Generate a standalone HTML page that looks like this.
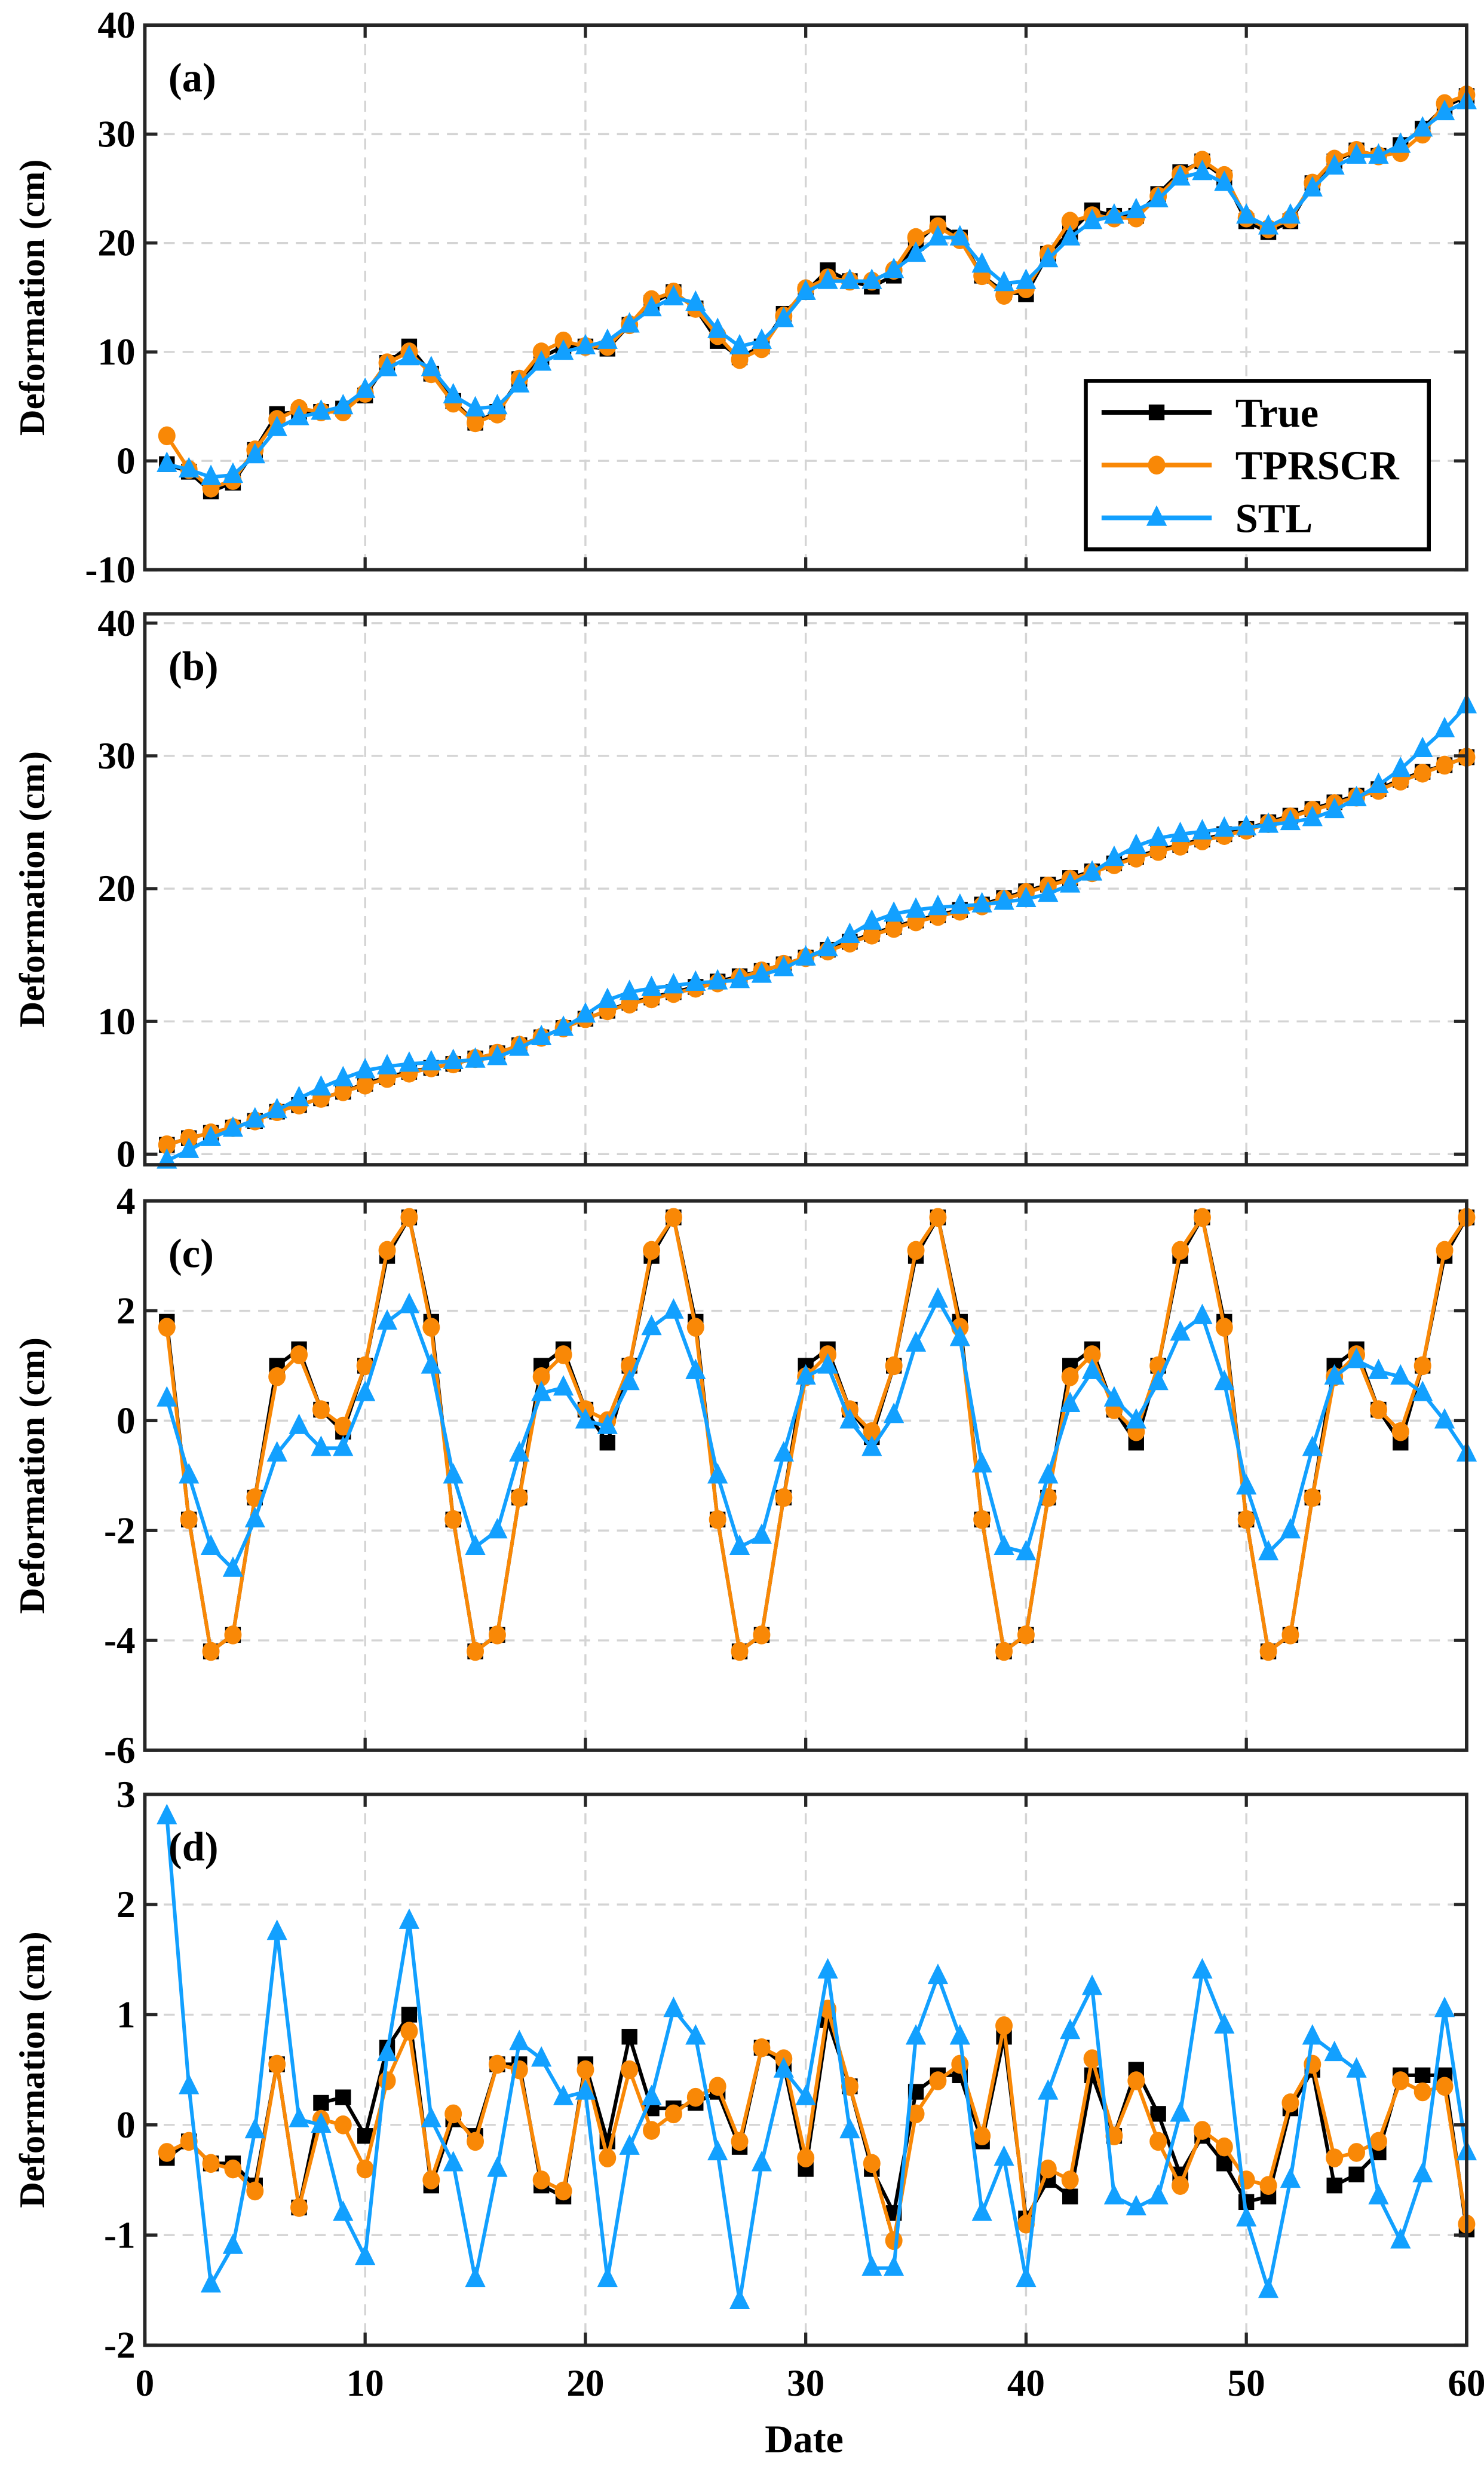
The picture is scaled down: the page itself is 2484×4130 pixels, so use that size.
<!DOCTYPE html>
<html><head><meta charset="utf-8">
<style>
html,body{margin:0;padding:0;background:#fff;}
svg{display:block;font-family:"Liberation Serif","DejaVu Serif",serif;font-weight:bold;}
</style></head>
<body>
<svg id="chart" width="2484" height="4130" viewBox="0 0 943 1568" xmlns="http://www.w3.org/2000/svg"></svg>
<script>
const dates = Array.from({length:60},(_,i)=>i+1);
const xTicks = [0,10,20,30,40,50,60];
const panelLabels = ["(a)","(b)","(c)","(d)"];
const yTicksA = [-10,0,10,20,30,40];
const yTicksB = [0,10,20,30,40];
const yTicksC = [-6,-4,-2,0,2,4];
const yTicksD = [-2,-1,0,1,2,3];

const trueA = [-0.3,-1,-2.8,-2,1,4.3,4.5,4.5,4.8,6,9,10.5,8,5.5,3.5,4.5,7.5,9.5,10.5,10.5,10.3,12.5,14.5,15.5,14,11,9.5,10.5,13.5,15.5,17.5,16.5,16,17,20,21.8,20.5,17,15.5,15.3,19,21,23,22.5,22.5,24.5,26.5,27.5,26,22,21,22,25.5,27.5,28.5,28,29,30.5,32.5,33.5];
const tprA = [2.3,-0.8,-2.5,-1.8,1,3.8,4.8,4.5,4.5,6.2,9,10,8,5.3,3.5,4.3,7.5,10,11,10.5,10.5,12.5,14.8,15.5,14,11.5,9.3,10.3,13.3,15.8,16.8,16.5,16.5,17.5,20.5,21.5,20.3,17,15.2,15.8,19,22,22.5,22.3,22.3,24.3,26.3,27.6,26.2,22.3,21.3,22.2,25.5,27.7,28.5,28,28.3,30,32.8,33.6];
const stlA = [-0.3,-0.8,-1.5,-1.3,0.5,3,4,4.5,5,6.5,8.5,9.5,8.5,6,4.8,5,7,9,10,10.5,11,12.5,14,15,14.5,12,10.5,11,13,15.5,16.5,16.5,16.5,17.5,19,20.5,20.5,18,16.3,16.5,18.5,20.5,22,22.5,23,24,26,26.5,25.5,22.5,21.5,22.5,25,27,28,28,29,30.5,32,33];

const trueB = [0.7,1.2,1.6,2,2.5,3.2,3.7,4.2,4.7,5.3,5.8,6.2,6.5,6.8,7.2,7.6,8.2,8.8,9.5,10.2,10.8,11.4,11.8,12.2,12.6,13,13.4,13.8,14.3,14.8,15.4,16,16.6,17.1,17.6,18,18.4,18.8,19.3,19.8,20.3,20.8,21.3,21.9,22.4,22.9,23.3,23.7,24.1,24.5,25,25.5,26,26.5,27,27.5,28.2,28.8,29.3,29.9];
const tprB = [0.7,1.2,1.6,2,2.5,3.2,3.7,4.2,4.7,5.2,5.7,6.1,6.5,6.8,7.2,7.6,8.2,8.8,9.5,10.2,10.8,11.3,11.7,12.1,12.5,12.9,13.3,13.8,14.3,14.8,15.3,15.9,16.5,17,17.5,17.9,18.3,18.7,19.2,19.7,20.2,20.7,21.2,21.8,22.3,22.8,23.2,23.6,24,24.4,24.9,25.4,25.9,26.4,26.9,27.4,28.1,28.7,29.3,29.9];
const stlB = [-0.5,0.3,1.2,1.9,2.6,3.3,4.2,5,5.7,6.3,6.6,6.8,6.9,7,7.1,7.3,8,8.8,9.5,10.5,11.6,12.2,12.5,12.7,12.9,13,13.1,13.5,14,14.8,15.5,16.5,17.5,18.1,18.4,18.6,18.7,18.8,19,19.2,19.6,20.3,21.2,22.3,23.2,23.8,24.1,24.3,24.5,24.6,24.8,25,25.3,25.9,26.8,27.8,29,30.5,32,33.8];

const trueC = [1.8,-1.8,-4.2,-3.9,-1.4,1.0,1.3,0.2,-0.2,1.0,3.0,3.7, 1.8,-1.8,-4.2,-3.9,-1.4,1.0,1.3,0.2,-0.4,1.0,3.0,3.7, 1.8,-1.8,-4.2,-3.9,-1.4,1.0,1.3,0.2,-0.3,1.0,3.0,3.7, 1.8,-1.8,-4.2,-3.9,-1.4,1.0,1.3,0.2,-0.4,1.0,3.0,3.7, 1.8,-1.8,-4.2,-3.9,-1.4,1.0,1.3,0.2,-0.4,1.0,3.0,3.7];
const tprC = [1.7,-1.8,-4.2,-3.9,-1.4,0.8,1.2,0.2,-0.1,1.0,3.1,3.7, 1.7,-1.8,-4.2,-3.9,-1.4,0.8,1.2,0.2,0.0,1.0,3.1,3.7, 1.7,-1.8,-4.2,-3.9,-1.4,0.8,1.2,0.2,-0.2,1.0,3.1,3.7, 1.7,-1.8,-4.2,-3.9,-1.4,0.8,1.2,0.2,-0.2,1.0,3.1,3.7, 1.7,-1.8,-4.2,-3.9,-1.4,0.8,1.2,0.2,-0.2,1.0,3.1,3.7];
const stlC = [0.4,-1,-2.3,-2.7,-1.8,-0.6,-0.1,-0.5,-0.5,0.5,1.8,2.1,1.0,-1.0,-2.3,-2.0,-0.6,0.5,0.6,0.0,-0.1,0.7,1.7,2.0,0.9,-1.0,-2.3,-2.1,-0.6,0.8,1.0,0,-0.5,0.1,1.4,2.2,1.5,-0.8,-2.3,-2.4,-1.0,0.3,0.9,0.4,0,0.7,1.6,1.9,0.7,-1.2,-2.4,-2,-0.5,0.8,1.1,0.9,0.8,0.5,0,-0.6];

const trueD = [-0.3,-0.15,-0.35,-0.35,-0.55,0.55,-0.75,0.2,0.25,-0.1,0.7,1.0,-0.55,0.05,-0.1,0.55,0.55,-0.55,-0.65,0.55,-0.15,0.8,0.15,0.15,0.2,0.3,-0.2,0.7,0.55,-0.4,0.95,0.35,-0.4,-0.8,0.3,0.45,0.45,-0.15,0.8,-0.85,-0.5,-0.65,0.45,-0.1,0.5,0.1,-0.45,-0.1,-0.35,-0.7,-0.65,0.15,0.5,-0.55,-0.45,-0.25,0.45,0.45,0.45,-0.95];
const tprD = [-0.25,-0.15,-0.35,-0.4,-0.6,0.55,-0.75,0.05,0,-0.4,0.4,0.85,-0.5,0.1,-0.15,0.55,0.5,-0.5,-0.6,0.5,-0.3,0.5,-0.05,0.1,0.25,0.35,-0.15,0.7,0.6,-0.3,1.05,0.35,-0.35,-1.05,0.1,0.4,0.55,-0.1,0.9,-0.9,-0.4,-0.5,0.6,-0.1,0.4,-0.15,-0.55,-0.05,-0.2,-0.5,-0.55,0.2,0.55,-0.3,-0.25,-0.15,0.4,0.3,0.35,-0.9];
const stlD = [2.8,0.35,-1.45,-1.1,-0.05,1.75,0.05,0.0,-0.8,-1.2,0.65,1.85,0.05,-0.35,-1.4,-0.4,0.75,0.6,0.25,0.3,-1.4,-0.2,0.25,1.05,0.8,-0.25,-1.6,-0.35,0.5,0.25,1.4,-0.05,-1.3,-1.3,0.8,1.35,0.8,-0.8,-0.3,-1.4,0.3,0.85,1.25,-0.65,-0.75,-0.65,0.1,1.4,0.9,-0.85,-1.5,-0.5,0.8,0.65,0.5,-0.65,-1.05,-0.45,1.05,-0.25];

const NS="http://www.w3.org/2000/svg";
const svg=document.getElementById('chart');
const BLACK="#000", ORANGE="#F98806", BLUE="#12A0FF";
const X0=92, X1=932;
function xs(v){return X0+(v-0)/(60-0)*(X1-X0);}
function mk(tag,attrs,parent){const e=document.createElementNS(NS,tag);for(const k in attrs)e.setAttribute(k,attrs[k]);(parent||svg).appendChild(e);return e;}

const panels=[
 {top:16,bot:362,ymin:-10,ymax:40,ticks:yTicksA,series:[trueA,tprA,stlA]},
 {top:390,bot:740,ymin:-0.8,ymax:40.7,ticks:yTicksB,series:[trueB,tprB,stlB]},
 {top:763,bot:1112,ymin:-6,ymax:4,ticks:yTicksC,series:[trueC,tprC,stlC]},
 {top:1140,bot:1490,ymin:-2,ymax:3,ticks:yTicksD,series:[trueD,tprD,stlD]}
];
const colors=[BLACK,ORANGE,BLUE];
const names=["true","tprscr","stl"];

function marker(k,x,y,g){
  let m;
  if(k===0){m=mk('rect',{x:x-5,y:y-5,width:10,height:10,fill:BLACK},g);}
  else if(k===1){m=mk('ellipse',{cx:x,cy:y,rx:5.5,ry:6,fill:ORANGE},g);}
  else {m=mk('polygon',{points:`${x},${y-8} ${x-6.5},${y+5} ${x+6.5},${y+5}`,fill:BLUE},g);}
  return m;
}

panels.forEach((p,pi)=>{
  const g=mk('g',{});
  
  
  const ys=v=>p.bot-(v-p.ymin)/(p.ymax-p.ymin)*(p.bot-p.top);
  xTicks.forEach(t=>{ if(t>0&&t<60){const l=mk('line',{x1:xs(t),x2:xs(t),y1:p.top,y2:p.bot,stroke:'#d4d4d4','stroke-width':1.3,'stroke-dasharray':'7,5'},g);
    }});
  p.ticks.forEach(t=>{const y=ys(t); if(y>p.top+1&&y<p.bot-1){const l=mk('line',{x1:X0,x2:X1,y1:y,y2:y,stroke:'#d4d4d4','stroke-width':1.3,'stroke-dasharray':'7,5'},g);
    }});
  [0,1,2].forEach(k=>{
    const data=p.series[k];
    const sg=mk('g',{},g);
    
    
    const pts=data.map((v,i)=>xs(dates[i])+','+ys(v)).join(' ');
    const pl=mk('polyline',{points:pts,fill:'none',stroke:colors[k],'stroke-width':2.3,'stroke-linejoin':'round'},sg);
    
    
    data.forEach((v,i)=>{const m=marker(k,xs(dates[i]),ys(v),sg);
      
      });
  });
  const box=mk('rect',{x:X0,y:p.top,width:X1-X0,height:p.bot-p.top,fill:'none',stroke:'#262626','stroke-width':2.2},g);
  
  
  xTicks.forEach(t=>{mk('line',{x1:xs(t),x2:xs(t),y1:p.bot,y2:p.bot-8,stroke:'#262626','stroke-width':2},g);mk('line',{x1:xs(t),x2:xs(t),y1:p.top,y2:p.top+8,stroke:'#262626','stroke-width':2},g);});
  p.ticks.forEach(t=>{const y=ys(t);
    mk('line',{x1:X0,x2:X0+8,y1:y,y2:y,stroke:'#262626','stroke-width':2},g);
    mk('line',{x1:X1,x2:X1-8,y1:y,y2:y,stroke:'#262626','stroke-width':2},g);
    const tx=mk('text',{x:X0-6,y:y+8,'text-anchor':'end','font-size':24,'font-weight':'bold'},g);tx.textContent=t;
    });
  const lab=mk('text',{x:107,y:p.top+42,'font-size':26,'font-weight':'bold'},g);lab.textContent=panelLabels[pi];
  
  const yt=mk('text',{x:0,y:0,'text-anchor':'middle','font-size':23,'font-weight':'bold',transform:`translate(28,${(p.top+p.bot)/2}) rotate(-90)`},g);
  yt.textContent='Deformation (cm)';
  
});

xTicks.forEach(t=>{const tx=mk('text',{x:xs(t),y:1522,'text-anchor':'middle','font-size':24,'font-weight':'bold'});tx.textContent=t;
  });
const xt=mk('text',{x:511,y:1558,'text-anchor':'middle','font-size':25,'font-weight':'bold'});xt.textContent='Date';


const lg=mk('g',{});


mk('rect',{x:690,y:242,width:218,height:107,fill:'#fff',stroke:'#000','stroke-width':2.5},lg);
const legNames=["True","TPRSCR","STL"];
[0,1,2].forEach(k=>{
  const y=262+k*33.5;
  const eg=mk('g',{},lg);
  
  
  mk('line',{x1:700,x2:770,y1:y,y2:y,stroke:colors[k],'stroke-width':3},eg);
  marker(k,735,y,eg);
  const t=mk('text',{x:785,y:y+9,'font-size':26,'font-weight':'bold'},eg);t.textContent=legNames[k];
});
</script>
</body></html>
